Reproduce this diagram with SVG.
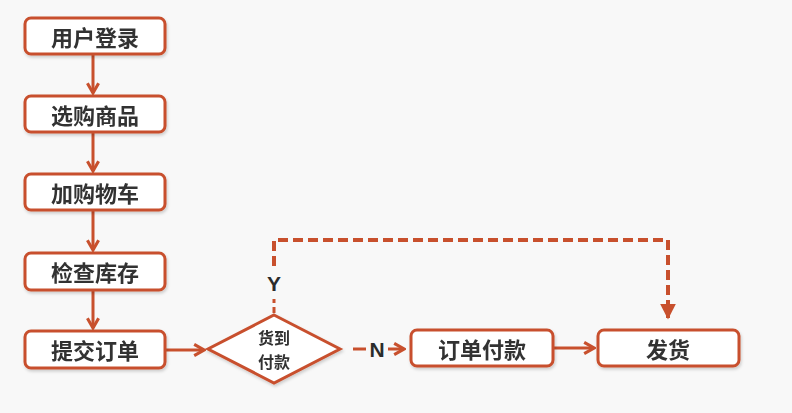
<svg xmlns="http://www.w3.org/2000/svg" width="792" height="413" viewBox="0 0 792 413">
  <defs>
    <style>
      .box { fill: #ffffff; stroke: #c8502d; stroke-width: 3; }
      .lbl { font-family: "Noto Sans CJK SC", "Noto Sans", sans-serif; font-weight: bold; fill: #333333; text-anchor: middle; dominant-baseline: central; }
      .big { font-size: 22px; }
      .small { font-size: 16px; }
      .yn { font-family: "Liberation Sans", Arial, sans-serif; font-weight: bold; font-size: 21px; fill: #2b2b2b; text-anchor: middle; dominant-baseline: central; }
      .line { fill: none; stroke: #c8502d; stroke-width: 3; }
      .dash { fill: none; stroke: #c8502d; stroke-width: 4; stroke-dasharray: 10 5; }
    </style>
    <filter id="shadow" x="-10%" y="-20%" width="120%" height="150%">
      <feDropShadow dx="1" dy="2" stdDeviation="1.5" flood-color="#000000" flood-opacity="0.18"/>
    </filter>
    <marker id="chev" viewBox="0 0 10 10" refX="8.5" refY="5" markerWidth="14" markerHeight="14" orient="auto" markerUnits="userSpaceOnUse">
      <path d="M1.5,1 L8.5,5 L1.5,9" fill="none" stroke="#c8502d" stroke-width="2.2"/>
    </marker>
    <marker id="tri" viewBox="0 0 10 10" refX="9" refY="5" markerWidth="4" markerHeight="4" orient="auto">
      <path d="M0,0 L10,5 L0,10 Z" fill="#c8502d"/>
    </marker>
  </defs>

  <rect width="792" height="413" fill="#f8f8f8"/>

  <!-- connectors -->
  <g id="connectors">
    <line class="line" x1="93" y1="55" x2="93" y2="93" marker-end="url(#chev)"/>
    <line class="line" x1="93" y1="133" x2="93" y2="171" marker-end="url(#chev)"/>
    <line class="line" x1="93" y1="211" x2="93" y2="250" marker-end="url(#chev)"/>
    <line class="line" x1="93" y1="291" x2="93" y2="328" marker-end="url(#chev)"/>
    <line class="line" x1="166" y1="350" x2="204" y2="350" marker-end="url(#chev)"/>
    <!-- N branch -->
    <line class="line" x1="353" y1="349" x2="366" y2="349"/>
    <text class="yn" x="377" y="349">N</text>
    <line class="line" x1="388" y1="349" x2="404" y2="349" marker-end="url(#chev)"/>
    <line class="line" x1="554" y1="348" x2="594" y2="348" marker-end="url(#chev)"/>
    <!-- Y branch -->
    <line class="line" x1="274" y1="313" x2="274" y2="299" stroke-width="4" stroke-dasharray="6 4"/>
    <text class="yn" x="274" y="283">Y</text>
    <path class="dash" d="M274,266 L274,240 L668,240 L668,318" marker-end="url(#tri)"/>
  </g>

  <!-- nodes -->
  <g id="n-login" filter="url(#shadow)">
    <rect class="box" x="25" y="18" width="140" height="36" rx="6"/>
    <text class="lbl big" x="95" y="36">用户登录</text>
  </g>
  <g id="n-browse" filter="url(#shadow)">
    <rect class="box" x="25" y="96" width="140" height="36" rx="6"/>
    <text class="lbl big" x="95" y="114">选购商品</text>
  </g>
  <g id="n-cart" filter="url(#shadow)">
    <rect class="box" x="25" y="174" width="140" height="36" rx="6"/>
    <text class="lbl big" x="95" y="192">加购物车</text>
  </g>
  <g id="n-stock" filter="url(#shadow)">
    <rect class="box" x="25" y="253" width="140" height="37" rx="6"/>
    <text class="lbl big" x="95" y="271">检查库存</text>
  </g>
  <g id="n-submit" filter="url(#shadow)">
    <rect class="box" x="25" y="331" width="140" height="37" rx="6"/>
    <text class="lbl big" x="95" y="349">提交订单</text>
  </g>
  <g id="n-cod" filter="url(#shadow)">
    <polygon class="box" points="274,315 340,349 274,383 208,349"/>
    <text class="lbl small" x="274" y="337">货到</text>
    <text class="lbl small" x="274" y="361">付款</text>
  </g>
  <g id="n-pay" filter="url(#shadow)">
    <rect class="box" x="411" y="330" width="142" height="36" rx="6"/>
    <text class="lbl big" x="482" y="348">订单付款</text>
  </g>
  <g id="n-ship" filter="url(#shadow)">
    <rect class="box" x="598" y="330" width="141" height="36" rx="6"/>
    <text class="lbl big" x="668" y="348">发货</text>
  </g>
</svg>
